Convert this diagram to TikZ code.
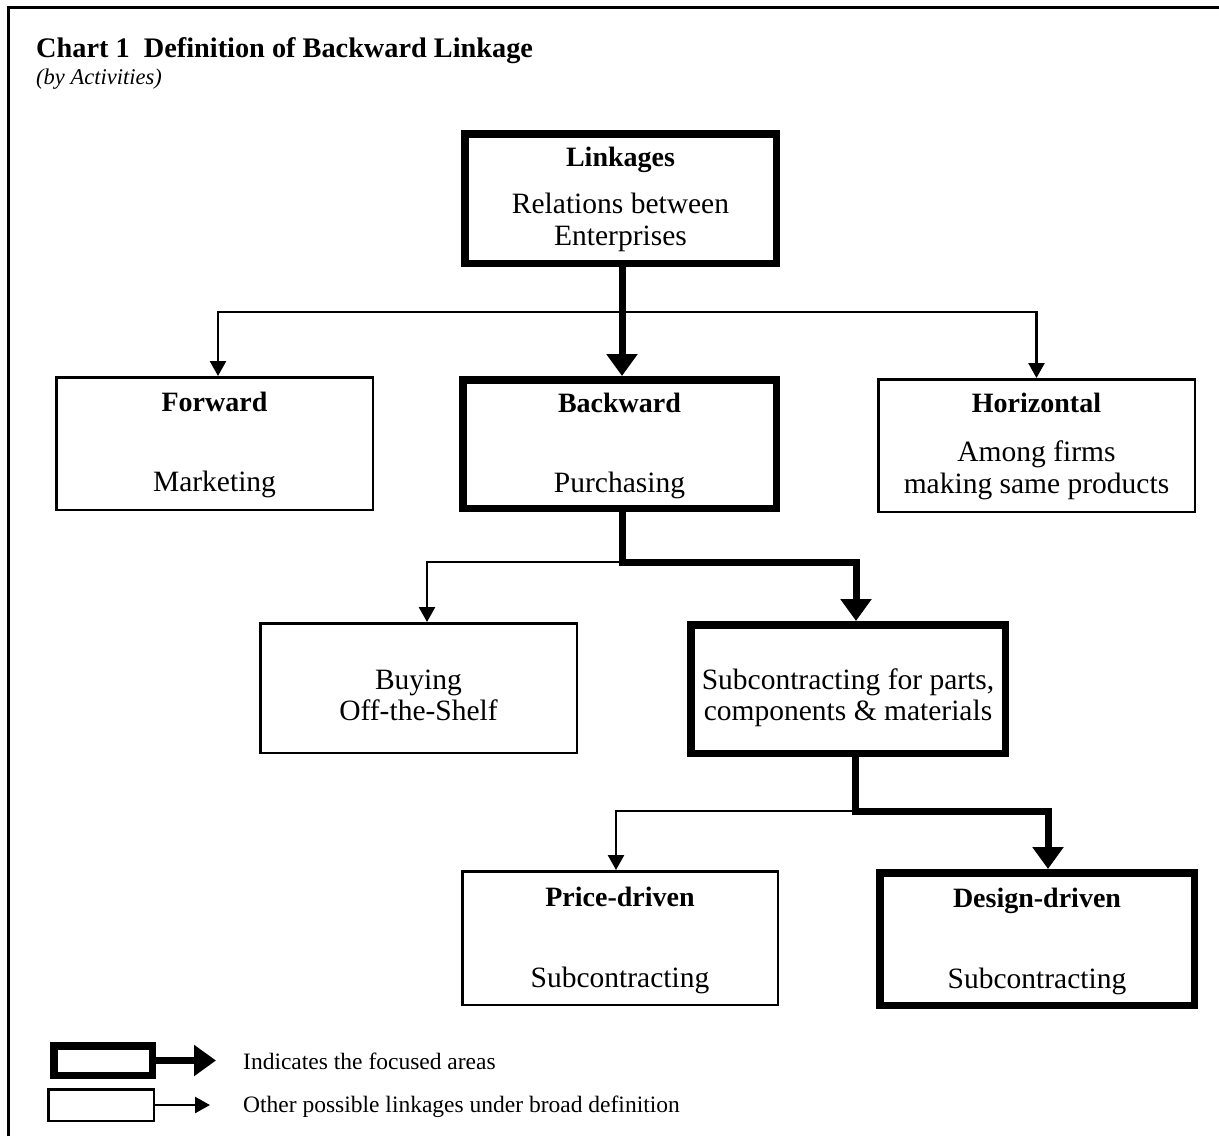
\documentclass[tikz,border=0pt]{standalone}
\usepackage{fontspec}
\setmainfont{Liberation Serif}
\usetikzlibrary{arrows.meta,calc}
\begin{document}
\begin{tikzpicture}[x=1pt,y=-1pt,
  box/.style={draw, line width=2.5pt, inner sep=0pt},
  fbox/.style={draw, line width=7.5pt, inner sep=0pt},
  txt/.style={inner sep=0pt, anchor=base, font=\fontsize{29.5}{32}\selectfont},
  btxt/.style={txt, font=\fontsize{28}{32}\selectfont\bfseries},
  legtxt/.style={inner sep=0pt, anchor=base west, font=\fontsize{23.5}{25}\selectfont},
  thickarrow/.style={line width=7pt, -{Triangle[width=30pt,length=22pt]}},
  thinarrow/.style={line width=2.5pt, -{Triangle[width=16pt,length=15pt]}}]
\useasboundingbox (0,0) rectangle (1219,1136);
% frame
\draw[line width=3pt] (8,1136) -- (8,7.5) -- (1219,7.5);
% title
\node[inner sep=0pt, anchor=base west, font=\fontsize{28.3}{32}\selectfont\bfseries] (title) at (36,57) {Chart 1\ \ Definition of Backward Linkage};
\node[inner sep=0pt, anchor=base west, font=\fontsize{22.5}{25}\selectfont\itshape] (subtitle) at (36,84) {(by Activities)};
% boxes
\node[fbox, minimum width=311.5pt, minimum height=129.5pt] (link) at (620.5,198.5) {};
\node[fbox, minimum width=313.5pt, minimum height=128.5pt] (back) at (619.5,444) {};
\node[box, minimum width=316.5pt, minimum height=132.5pt] (fwd) at (214.5,443.5) {};
\node[box, minimum width=316.5pt, minimum height=132.5pt] (hor) at (1036.5,445.5) {};
\node[box, minimum width=316.5pt, minimum height=129.5pt] (buy) at (418.5,688) {};
\node[fbox, minimum width=314.5pt, minimum height=128.5pt] (sub) at (848,689) {};
\node[box, minimum width=315.5pt, minimum height=133.5pt] (price) at (620,938) {};
\node[fbox, minimum width=314.5pt, minimum height=132.5pt] (design) at (1037,939) {};
% texts
\node[btxt] (linkT) at (620.5,166) {Linkages};
\node[txt] (linkA) at (620.5,213) {Relations between};
\node[txt] (linkB) at (620.5,245) {Enterprises};
\node[btxt] (fwdT) at (214.5,411) {Forward};
\node[txt] (fwdA) at (214.5,491) {Marketing};
\node[btxt] (backT) at (619.5,412) {Backward};
\node[txt] (backA) at (619.5,492) {Purchasing};
\node[btxt] (horT) at (1036.5,412) {Horizontal};
\node[txt] (horA) at (1036.5,461) {Among firms};
\node[txt] (horB) at (1036.5,493) {making same products};
\node[txt] (buyA) at (418.5,689) {Buying};
\node[txt] (buyB) at (418.5,720) {Off-the-Shelf};
\node[txt] (subA) at (848,689) {Subcontracting for parts,};
\node[txt] (subB) at (848,720) {components \& materials};
\node[btxt] (priceT) at (620,906) {Price-driven};
\node[txt] (priceA) at (620,987) {Subcontracting};
\node[btxt] (designT) at (1037,907) {Design-driven};
\node[txt] (designA) at (1037,988) {Subcontracting};
% connectors
\coordinate (j1) at (622,312);
\coordinate (j2) at (622,562);
\coordinate (j3) at (855,811);
\draw[thinarrow] (j1) -| ($(fwd.north)+(3.5,0)$);
\draw[thinarrow] (j1) -| (hor.north);
\draw[thickarrow] (link.south -| j1) -- (back.north -| j1);
\draw[thinarrow] (j2) -| ($(buy.north)+(8.5,0)$);
\draw[thickarrow] (back.south -| j2) -- (j2) -| ($(sub.north)+(8,0)$);
\draw[thinarrow] (j3) -| ($(price.north)+(-4,0)$);
\draw[thickarrow] (sub.south -| j3) -- (j3) -| ($(design.north)+(11,0)$);
% legend
\node[fbox, minimum width=98.5pt, minimum height=29.5pt] (lg1) at (103,1060.5) {};
\coordinate (lg1e) at (216,1060.5);
\draw[thickarrow] (lg1) -- (lg1e);
\node[box, minimum width=105.5pt, minimum height=31.5pt] (lg2) at (101,1105) {};
\coordinate (lg2e) at (210,1105);
\draw[thinarrow] (lg2) -- (lg2e);
\node[legtxt] (lt1) at (243,1069) {Indicates the focused areas};
\node[legtxt] (lt2) at (243,1112) {Other possible linkages under broad definition};
\end{tikzpicture}
\end{document}
